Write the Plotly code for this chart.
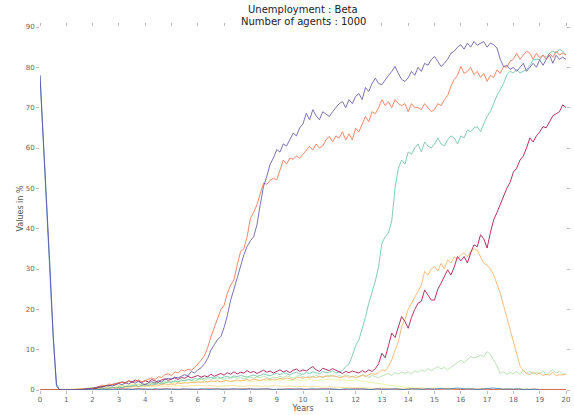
import plotly.graph_objects as go

# x grids (years)
years = [i / 8 for i in range(161)]
years_q = [i / 4 for i in range(81)]

purple = [
    78, 63, 47, 31, 14, 1, 0, 0,
    0, 0, 0, 0.1, 0.1, 0.2, 0.3, 0.3,
    0.5, 0.6, 0.8, 0.7, 1.0, 1.2, 1.0, 1.4,
    1.6, 1.3, 1.8, 1.5, 2.0, 1.7, 2.2, 1.6,
    1.3, 1.8, 2.1, 1.7, 2.4, 2.0, 2.6, 2.9,
    2.7, 3.2, 3.0, 3.4, 3.8, 3.5, 4.6, 4.2,
    5.0, 5.5, 6.5, 7.8, 9.9, 11.2, 12.5, 13.2,
    15.5, 18.5, 22.3, 25, 28, 30.6, 33.5, 35.6,
    37, 38, 41, 46, 50.5, 53, 56, 57.5,
    59.6, 59, 61, 60.5, 62, 63.7, 63, 65,
    66, 68.6, 67, 69.5, 68, 67, 69, 68.5,
    67.8, 69, 70, 71, 71.5, 70, 72, 71,
    72.8, 73.5, 72, 75, 74, 76, 77.3, 76,
    75.7, 77, 78, 79, 80.2, 78.5, 77, 76.5,
    77.4, 79, 78, 80, 79, 81, 80.5, 81.9,
    82.7, 81.5, 80.2, 81, 82, 83.5, 84, 85,
    85.6, 84.5, 86, 85, 86.4, 85.5, 86, 86.4,
    85, 86, 85.6, 84.8, 82, 80.2, 80.5, 79.5,
    80, 79, 80, 81, 79, 80, 81, 80,
    81.9, 80.5, 82, 83, 81, 83, 82, 82.5,
    82,
]

orange = [
    0, 0, 0, 0, 0, 0, 0, 0,
    0, 0, 0, 0, 0.1, 0.2, 0.2, 0.3,
    0.4, 0.6, 0.9, 1.2, 1.0, 1.5, 1.3, 1.6,
    1.7, 1.9, 1.6, 2.2, 1.8, 2.1, 2.5, 2.0,
    2.3, 2.7, 3.0, 2.6, 3.3, 3.1, 3.8, 4.0,
    3.6, 4.5, 4.2, 5.0, 4.7, 5.1, 4.9, 5.5,
    6.4, 7.4, 8.5, 10.5, 13.2, 15.5, 17.5, 19.9,
    21, 24, 26, 27.3, 31, 34.3, 35, 38,
    42.6, 44, 46, 48.4, 51.3, 51, 52, 52.5,
    52.1, 54.5, 57, 56, 57.5, 57.2, 58, 57.5,
    58.5, 59.5, 60.4, 59.5, 61, 60, 60.5, 62,
    62.9, 61.5, 63, 62.5, 64, 62, 63.5, 62,
    64.9, 64, 66, 67.8, 66.5, 69, 68.5, 70,
    72, 70.5, 71.5, 70, 72, 71, 70.5, 71,
    69, 71, 70, 70, 69.5, 71, 70, 69,
    69.5, 71, 70.5, 72, 73, 75.3, 77, 78,
    80.2, 78.5, 79, 80, 78.2, 79, 77.5, 78.5,
    76.5, 78, 77.5, 79.4, 78.5, 80.2, 80, 81.5,
    82, 83.5, 82, 83, 84, 83.5, 82, 83.5,
    82.4, 83, 82, 83.5, 82.5, 84, 83, 83.6,
    83,
]

teal = [
    0, 0, 0, 0, 0, 0, 0, 0,
    0, 0, 0, 0, 0, 0, 0.1, 0.1,
    0.2, 0.3, 0.2, 0.4, 0.5, 0.4, 0.6, 0.5,
    0.7, 0.6, 0.9, 0.8, 1.0, 1.2, 0.9, 1.1,
    1.3, 1.1, 1.5, 1.4, 1.7, 1.5, 1.8, 2.0,
    1.9, 2.2, 2.0, 2.4, 2.3, 2.6, 2.4, 2.8,
    2.7, 3.0, 2.8, 3.2, 3.1, 2.9, 3.3, 3.0,
    3.2, 3.4, 3.1, 3.5, 3.3, 3.6, 3.4, 3.2,
    3.5, 3.7, 3.4, 3.6, 4.0, 3.8, 3.5, 3.9,
    4.1, 3.8, 4.3, 4.0, 3.7, 4.2, 4.4, 4.0,
    3.9, 4.3, 4.1, 4.5, 4.2, 4.0, 4.6, 4.3,
    4.4, 4.7, 4.2, 4.5, 4.8, 5.8, 6.5, 8.5,
    11, 12.4, 15, 18, 21.5, 24, 27, 30.6,
    36.4, 38, 38.9, 42, 50, 55, 57, 56,
    59, 58.5, 60, 61, 59, 61.5, 60.5, 60,
    61, 62.5, 61, 60.5, 62, 63, 62.5, 61,
    63, 62.5, 64.5, 64, 65, 65.3, 64, 66,
    67.8, 69, 71.2, 73, 74.4, 76, 78.2, 79,
    78.6, 79.5, 78.6, 79, 79.4, 80.5, 81.9, 82,
    81.9, 83, 82.5, 83.5, 84, 83.5, 84.5, 84,
    83,
]

maroon = [
    0, 0, 0, 0, 0, 0, 0, 0,
    0, 0, 0, 0, 0, 0.1, 0.2, 0.2,
    0.3, 0.4, 0.7, 0.9, 1.1, 1.0, 1.4, 1.5,
    1.7, 2.0, 1.8, 2.3, 2.0, 2.5, 2.1, 1.9,
    2.3, 2.0, 2.6, 2.2, 1.9, 2.5, 2.8, 2.4,
    2.7, 3.0, 2.6, 3.1, 2.9, 3.4, 3.0, 3.3,
    3.6, 3.2, 3.5, 3.3, 3.9, 3.4, 3.8, 4.1,
    3.7, 4.3, 3.9, 4.5, 4.0, 4.4, 4.2, 4.8,
    4.3, 4.6, 4.1, 4.5, 4.9, 4.4, 4.7, 4.2,
    4.6, 5.0, 4.5, 4.8, 4.3, 4.9, 5.2, 4.6,
    5.0, 4.7, 5.3, 5.8, 5.0, 4.6, 5.4, 5.1,
    4.8, 5.3, 4.9, 4.4, 4.1, 4.6, 4.3, 4.7,
    4.5, 4.2, 4.8, 4.4, 5.0, 4.6, 5.3, 6.5,
    9.1, 8.0, 11, 14.1, 13, 15.7, 18.2, 17,
    15.3, 18, 20, 21.5, 22, 24.8, 23.5, 22.3,
    22.3, 25, 26.5, 28.1, 29.8, 28.5, 30.5, 33.1,
    32, 33.1, 31.5, 34, 36, 35.5, 38.5, 37.5,
    35.2, 39, 42.2, 44, 46, 48, 50, 51.5,
    54, 55, 57, 58, 60, 62.5, 61.5, 63,
    64, 65.3, 65, 66.5, 68, 68.5, 69, 70.7,
    70,
]

light_orange = [
    0, 0, 0, 0, 0, 0, 0, 0,
    0, 0, 0, 0, 0, 0, 0.1, 0.1,
    0.2, 0.2, 0.3, 0.4, 0.3, 0.5, 0.6, 0.5,
    0.7, 0.6, 0.8, 0.9, 0.8, 1.0, 0.9, 1.1,
    1.0, 1.2, 1.1, 1.3, 1.2, 1.4, 1.5, 1.3,
    1.5, 1.4, 1.7, 1.6, 1.8, 1.7, 1.9, 1.8,
    2.0, 1.9, 2.1, 2.0, 2.2, 2.1, 2.3, 2.0,
    2.2, 2.4, 2.1, 2.3, 2.5, 2.2, 2.4, 2.6,
    2.4, 2.7, 2.5, 2.3, 2.6, 2.8, 2.5, 2.7,
    2.6, 2.9, 2.7, 3.0, 2.8, 2.6, 3.0, 3.1,
    2.9, 3.2, 3.0, 3.3, 3.1, 3.4, 3.2, 3.5,
    3.3, 3.6, 3.4, 3.0, 3.2, 3.5, 3.1, 3.4,
    3.0, 3.3, 3.6, 3.4, 3.8, 4.1, 3.9, 4.3,
    5.0, 4.7, 5.8, 7.5, 9.9, 12, 15.7, 17.5,
    20, 21.5, 23, 24.8, 26, 29.4, 28.5, 30,
    30.6, 29.5, 31.4, 30, 32.3, 31.5, 33, 32.5,
    33.5, 34, 33, 34.3, 35, 34.7, 33, 31.4,
    31, 30, 28.5, 26.5, 24, 21, 18, 14.9,
    12, 9, 6, 4.8, 4.1, 3.8, 4.5, 3.9,
    4.2, 3.6, 3.9, 3.7, 4.4, 3.5, 3.8, 3.7,
    4,
]

light_green = [
    0, 0, 0, 0, 0, 0, 0, 0,
    0, 0, 0, 0, 0, 0, 0.1, 0.1,
    0.2, 0.3, 0.3, 0.5, 0.4, 0.6, 0.7, 0.6,
    0.8, 1.0, 0.9, 1.2, 1.1, 1.3, 1.5, 1.3,
    1.6, 1.4, 1.8, 1.7, 2.0, 1.8, 2.1, 2.2,
    2.0, 2.3, 2.1, 2.5, 2.3, 2.6, 2.4, 2.2,
    2.5, 2.7, 2.4, 2.8, 2.6, 3.0, 2.7, 2.9,
    2.6, 3.0, 2.8, 3.2, 2.9, 3.1, 2.7, 3.0,
    3.2, 2.9, 3.3, 3.0, 3.4, 3.1, 2.8, 3.2,
    3.0, 3.4, 3.1, 3.5, 3.2, 2.9, 3.3, 3.6,
    3.3, 3.0, 3.5, 3.2, 3.6, 3.3, 3.1, 3.4,
    3.7, 3.4, 3.2, 3.6, 3.3, 3.8, 3.5, 3.2,
    3.6, 3.3, 3.8, 3.4, 3.1, 3.6, 3.3, 3.0,
    3.5, 3.8, 4.1, 3.6, 4.3, 3.9, 4.5, 4.1,
    4.5, 4.0, 4.7, 4.4, 5.0, 4.6, 5.3, 4.8,
    5.4, 5.8, 5.2, 5.6, 5.0, 5.5, 6.2, 6.8,
    7.4, 6.8, 7.6, 8.3, 7.9, 8.3, 8.6, 8.3,
    9.5, 8.8, 7.4, 6.0, 4.1, 4.5, 3.9, 4.3,
    4.1, 4.6, 3.8, 5.0, 4.2, 4.6, 3.9, 4.4,
    4.1, 4.8, 3.7, 4.5, 5.0, 4.2, 4.6, 3.9,
    4,
]

blue = [
    78, 62, 46, 30, 13, 1.5, 0, 0,
] + [
    0, 0, 0, 0, 0, 0, 0, 0,
    0, 0, 0.1, 0, 0.1, 0.1, 0, 0.1,
    0.1, 0.2, 0.1, 0.2, 0.1, 0.2, 0.2, 0.1,
    0.2, 0.1, 0.2, 0.3, 0.2, 0.1, 0.2, 0.2,
    0.3, 0.2, 0.1, 0.2, 0.3, 0.2, 0.2, 0.1,
    0.2, 0.3, 0.2, 0.2, 0.1, 0.2, 0.3, 0.2,
    0.2, 0.1, 0.2, 0.3, 0.2, 0.2, 0.1, 0.2,
    0.3, 0.2, 0.2, 0.1, 0.2, 0.3, 0.2, 0.1,
    0.2, 0.2, 0.3, 0.2, 0.1, 0.2, 0.2, 0.3,
    0.2, 0.1, 0.2, 0.3, 0.2, 0.2, 0.1, 0.2,
    0.3, 0.2, 0.2, 0.1, 0.2, 0.3, 0.2, 0.2,
    0.1, 0.2, 0.3, 0.2, 0.2, 0.1, 0.2, 0.3,
    0.2, 0.2, 0.1, 0.2, 0.3, 0.2, 0.2, 0.1,
    0.2, 0.3, 0.2, 0.2, 0.1, 0.2, 0.3, 0.2,
    0.2, 0.3, 0.4, 0.3, 0.2, 0.3, 0.4, 0.5,
    0.4, 0.3, 0.2, 0.3, 0.2, 0.1, 0.2, 0.3,
    0.3, 0.4, 0.5, 0.4, 0.3, 0.2, 0.3, 0.2,
    0.2, 0.3, 0.2, 0.1, 0.2, 0.1, 0.2, 0.1,
    0.1,
]

red = [
    0, 0, 0, 0, 0.1, 0.1, 0.2, 0.1, 0.2, 0.2,
    0.1, 0.2, 0.3, 0.2, 0.2, 0.3, 0.2, 0.1, 0.2, 0.3,
    0.2, 0.2, 0.3, 0.2, 0.1, 0.2, 0.3, 0.2, 0.2, 0.1,
    0.2, 0.3, 0.2, 0.2, 0.3, 0.2, 0.1, 0.2, 0.3, 0.2,
    0.2, 0.1, 0.2, 0.3, 0.2, 0.2, 0.1, 0.2, 0.3, 0.2,
    0.1, 0.2, 0.2, 0.3, 0.2, 0.1, 0.2, 0.3, 0.2, 0.2,
    0.1, 0.2, 0.3, 0.2, 0.1, 0.2, 0.2, 0.3, 0.2, 0.1,
    0.2, 0.1, 0.2, 0.2, 0.1, 0.2, 0.1, 0.1, 0.2, 0.1,
    0.1,
]

yellow = [
    0, 0, 0, 0, 0.1, 0.2, 0.3, 0.3, 0.4, 0.5,
    0.5, 0.6, 0.7, 0.6, 0.8, 0.7, 0.9, 0.8, 1.0, 0.9,
    1.0, 1.1, 0.9, 1.0, 1.2, 1.0, 1.1, 0.9, 1.0, 1.1,
    1.0, 0.9, 1.1, 1.0, 0.9, 1.0, 1.1, 0.9, 1.0, 0.8,
    0.9, 0.8, 0.9, 0.7, 0.8, 0.7, 0.6, 0.7, 0.5, 0.6,
    0.5, 0.4, 0.5, 0.4, 0.3, 0.4, 0.3, 0.3, 0.2, 0.3,
    0.2, 0.3, 0.2, 0.2, 0.3, 0.2, 0.1, 0.2, 0.2, 0.1,
    0.2, 0.1, 0.1, 0.2, 0.1, 0.1, 0.1, 0.1, 0.2, 0.1,
    0.1,
]

pale_green = [
    0, 0, 0, 0, 0.1, 0.2, 0.3, 0.4, 0.6, 0.7,
    0.9, 1.0, 1.2, 1.1, 1.4, 1.3, 1.5, 1.6, 1.5, 1.8,
    1.7, 1.9, 1.8, 2.0, 2.1, 1.9, 2.2, 2.0, 2.3, 2.1,
    2.2, 2.4, 2.1, 2.3, 2.5, 2.2, 2.4, 2.6, 2.3, 2.5,
    2.4, 2.6, 2.3, 2.5, 2.7, 2.4, 2.6, 2.3, 2.5, 2.2,
    2.0, 1.7, 1.5, 1.2, 1.0, 0.8, 0.7, 0.5, 0.6, 0.4,
    0.5, 0.4, 0.3, 0.4, 0.3, 0.4, 0.3, 0.2, 0.3, 0.2,
    0.3, 0.2, 0.2, 0.3, 0.2, 0.2, 0.1, 0.2, 0.2, 0.1,
    0.1,
]

x_ticks = list(range(0, 21))
y_ticks = list(range(0, 91, 10))
title_lines = ["Unemployment : Beta", "Number of agents : 1000"]

series = [
    ("pale_green", years_q, pale_green, "#e6f598"),
    ("yellow", years_q, yellow, "#fee08b"),
    ("red", years_q, red, "#d53e4f"),
    ("light_green", years, light_green, "#abdda4"),
    ("light_orange", years, light_orange, "#fdae61"),
    ("teal", years, teal, "#66c2a5"),
    ("maroon", years, maroon, "#9e0142"),
    ("orange", years, orange, "#f46d43"),
    ("blue", years, blue, "#3288bd"),
    ("purple", years, purple, "#5e4fa2"),
]

fig = go.Figure()
for name, xs, ys, col in series:
    fig.add_trace(go.Scatter(
        x=xs, y=ys, mode="lines", name=name,
        line=dict(color=col, width=1.0), opacity=0.8,
        showlegend=False, cliponaxis=False, hoverinfo="skip",
    ))

axis_common = dict(
    showgrid=False, zeroline=False, showline=False,
    ticks="outside", ticklen=3, tickwidth=1, tickcolor="#bbbbbb",
    tickfont=dict(size=7, color="#666666"), mirror="ticks",
    automargin=False,
)

fig.update_layout(
    width=574, height=415,
    margin=dict(l=40, r=8, t=27, b=25),
    paper_bgcolor="white", plot_bgcolor="white",
    font=dict(family="DejaVu Sans", color="#333333"),
    xaxis=dict(
        range=[0, 20], tickvals=x_ticks,
        title=dict(text="Years", font=dict(size=8, color="#555555"), standoff=0),
        **axis_common,
    ),
    yaxis=dict(
        range=[0, 90], tickvals=y_ticks,
        title=dict(text="Values in %", font=dict(size=8, color="#555555"), standoff=0),
        **axis_common,
    ),
    annotations=[
        dict(text=title_lines[0], x=0.5, y=1.047, xref="paper", yref="paper",
             xanchor="center", yanchor="middle", showarrow=False,
             font=dict(size=10, color="#222222")),
        dict(text=title_lines[1], x=0.5, y=1.0165, xref="paper", yref="paper",
             xanchor="center", yanchor="middle", showarrow=False,
             font=dict(size=10, color="#222222")),
    ],
)

fig.write_html(
    "out.html",
    config={"displayModeBar": False},
    post_script="document.body.style.margin='0';document.body.style.overflow='hidden';",
)
